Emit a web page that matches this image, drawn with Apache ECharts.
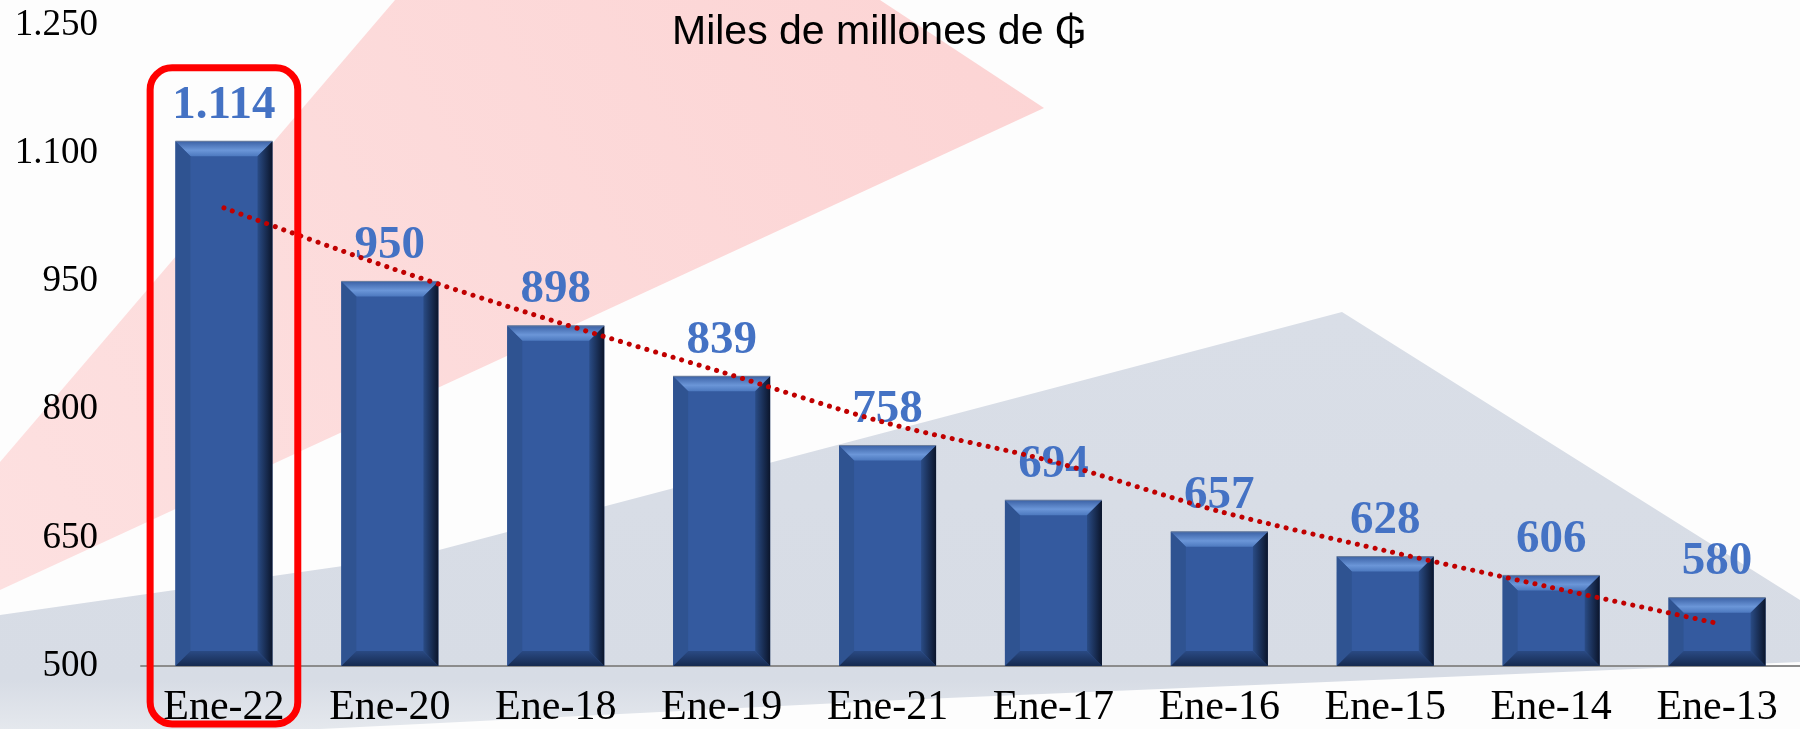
<!DOCTYPE html>
<html>
<head>
<meta charset="utf-8">
<title>Miles de millones de ₲</title>
<script src="https://cdn.jsdelivr.net/npm/echarts@6/dist/echarts.min.js"></script>
<style>
  html, body { margin: 0; padding: 0; background: #fdfdfd; }
  #main { width: 1800px; height: 729px; }
</style>
</head>
<body>
<div id="main"></div>
<script>
// categorias (ordenadas de mayor a menor)
const categories = ['Ene-22', 'Ene-20', 'Ene-18', 'Ene-19', 'Ene-21', 'Ene-17', 'Ene-16', 'Ene-15', 'Ene-14', 'Ene-13'];
// miles de millones de guaranies
const values = [1114, 950, 898, 839, 758, 694, 657, 628, 606, 580];
// linea de tendencia punteada
const trendValues = [1036, 966, 903, 844, 784, 739, 681, 635, 592, 550];
const yTicks = { min: 500, max: 1250, interval: 150 };
const highlightCategory = 'Ene-22';
const highlightTopValue = 1200;

const serif = '"Liberation Serif", "Times New Roman", serif';
const fmt = v => String(v).replace(/\B(?=(\d{3})+(?!\d))/g, '.');

const chart = echarts.init(document.getElementById('main'));

// figuras del fondo
const bgShapes = [
  {
    type: 'polygon', z: -10, silent: true,
    shape: { points: [[395, 0], [880, 0], [1044, 108], [0, 590], [0, 462]] },
    style: {
      fill: new echarts.graphic.LinearGradient(1, 0, 0, 1, [
        { offset: 0, color: '#fcd4d4' },
        { offset: 1, color: '#fde0e0' }
      ])
    }
  },
  {
    type: 'polygon', z: -10, silent: true,
    shape: { points: [[1342, 312], [1800, 600], [1800, 662], [900, 700], [0, 745], [0, 615], [420, 555]] },
    style: {
      fill: new echarts.graphic.LinearGradient(0, 0, 0, 1, [
        { offset: 0, color: '#d9dee7' },
        { offset: 0.85, color: '#d7dce5' },
        { offset: 1, color: '#e9ecf0' }
      ])
    }
  }
];

function bevel(params, api) {
  const idx = api.value(0);
  const top = api.coord([idx, api.value(1)]);
  const base = api.coord([idx, yTicks.min]);
  const w = api.size([1, 0])[0] * 0.585;
  const L = top[0] - w / 2, R = top[0] + w / 2, T = top[1], B = base[1];
  const b = 15;
  return {
    type: 'group',
    silent: true,
    children: [
      {
        type: 'polygon',
        shape: { points: [[L, T], [R, T], [R - b, T + b], [L + b, T + b]] },
        style: {
          fill: new echarts.graphic.LinearGradient(0, 0, 0, 1, [
            { offset: 0, color: '#3c62a6' },
            { offset: 0.6, color: '#6b96d8' },
            { offset: 1, color: '#4d79bf' }
          ])
        }
      },
      {
        type: 'polygon',
        shape: { points: [[L, T], [L + b, T + b], [L + b, B - b], [L, B]] },
        style: { fill: '#2f5391' }
      },
      {
        type: 'polygon',
        shape: { points: [[L, B], [R, B], [R - b, B - b], [L + b, B - b]] },
        style: {
          fill: new echarts.graphic.LinearGradient(0, 0, 0, 1, [
            { offset: 0, color: '#2a4a84' },
            { offset: 1, color: '#162a4f' }
          ])
        }
      },
      {
        type: 'polygon',
        shape: { points: [[R, T], [R, B], [R - b, B - b], [R - b, T + b]] },
        style: {
          fill: new echarts.graphic.LinearGradient(0, 0, 1, 0, [
            { offset: 0, color: '#2a4c86' },
            { offset: 1, color: '#0b152b' }
          ])
        }
      },
      {
        type: 'line',
        shape: { x1: L, y1: T, x2: R, y2: T },
        style: { stroke: '#6d7f9c', lineWidth: 1 }
      }
    ]
  };
}

const option = {
  animation: false,
  backgroundColor: '#fdfdfd',
  title: {
    text: 'Miles de millones de ₲',
    left: 672,
    top: 12,
    padding: 0,
    textStyle: {
      fontFamily: '"Liberation Sans", Arial, "DejaVu Sans", sans-serif',
      fontSize: 41,
      lineHeight: 42,
      fontWeight: 'normal',
      color: '#000'
    }
  },
  grid: { left: 141, right: -11, top: 25, bottom: 63, containLabel: false },
  xAxis: {
    type: 'category',
    data: categories,
    axisLine: { lineStyle: { color: '#8c8c8c', width: 2 } },
    axisTick: { length: 10, lineStyle: { color: '#8c8c8c', width: 2 } },
    axisLabel: {
      color: '#000',
      fontFamily: serif,
      fontSize: 42,
      lineHeight: 42,
      margin: 21,
      interval: 0
    }
  },
  yAxis: {
    type: 'value',
    min: yTicks.min,
    max: yTicks.max,
    interval: yTicks.interval,
    axisLine: { show: false },
    axisTick: { show: false },
    splitLine: { show: false },
    axisLabel: {
      color: '#000',
      fontFamily: serif,
      fontSize: 37,
      margin: 43,
      formatter: fmt
    }
  },
  series: [
    {
      type: 'bar',
      data: values,
      barWidth: '58.5%',
      z: 2,
      itemStyle: { color: '#345a9f' },
      label: {
        show: true,
        position: 'top',
        distance: 12,
        color: '#4472c4',
        fontFamily: serif,
        fontWeight: 'bold',
        fontSize: 47,
        lineHeight: 47,
        formatter: p => fmt(p.value)
      }
    },
    {
      type: 'custom',
      renderItem: bevel,
      data: values.map((v, i) => [i, v]),
      encode: { x: 0, y: 1 },
      z: 3,
      silent: true
    },
    {
      type: 'line',
      data: trendValues,
      smooth: 0.3,
      showSymbol: false,
      symbol: 'none',
      z: 4,
      lineStyle: { color: '#c00000', width: 5, type: [0.1, 9], cap: 'round' }
    }
  ],
  graphic: bgShapes
};

chart.setOption(option);

// recuadro rojo alrededor de la columna destacada
const cx = chart.convertToPixel({ xAxisIndex: 0 }, highlightCategory);
const topY = chart.convertToPixel({ yAxisIndex: 0 }, highlightTopValue);
const band = chart.getModel().getComponent('grid').coordinateSystem.getRect().width / categories.length;
const boxW = band * 0.89;
chart.setOption({
  graphic: bgShapes.concat([{
    type: 'rect',
    z: 10,
    silent: true,
    shape: { x: cx - boxW / 2, y: topY, width: boxW, height: chart.getHeight() - topY - 5, r: 22 },
    style: { fill: null, stroke: '#ff0000', lineWidth: 7 }
  }])
});

window.onresize = function () {
  chart.resize();
};
</script>
</body>
</html>
